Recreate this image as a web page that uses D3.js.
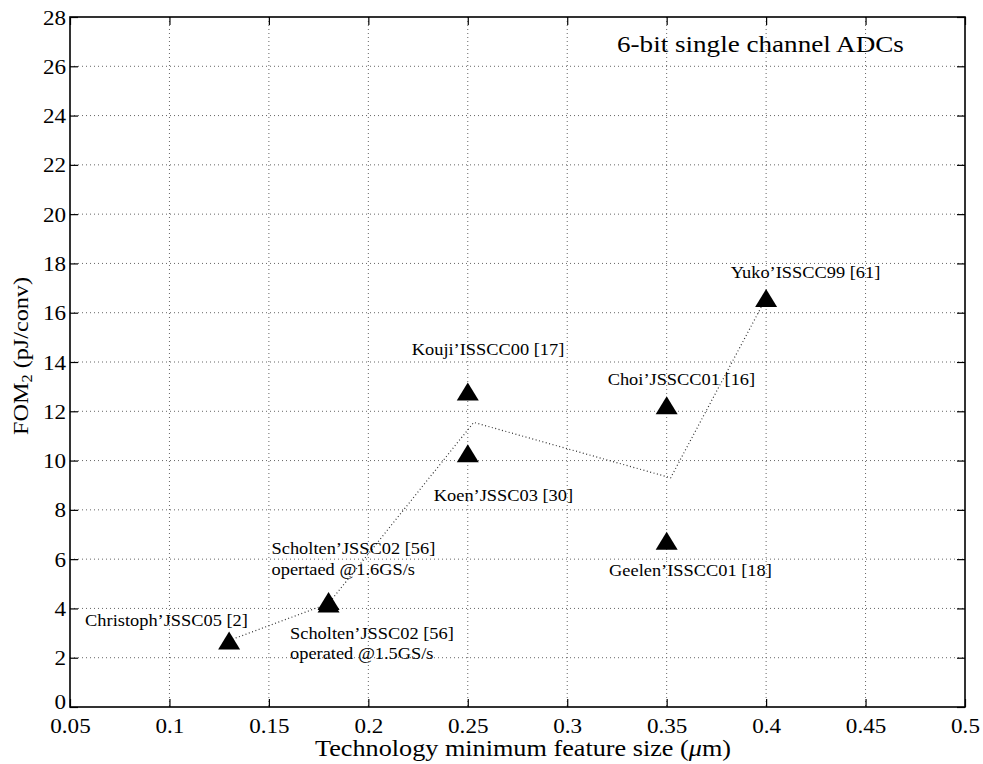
<!DOCTYPE html>
<html><head><meta charset="utf-8">
<script src="https://cdn.jsdelivr.net/npm/d3@7"></script>
<style>body{margin:0;background:#fff}svg{display:block}text{font-family:"Liberation Serif","Times New Roman",serif;fill:#000}</style>
</head><body>
<svg id="c" width="983" height="764"></svg>
<script>
// ---- data ----
const names = ["Christoph’JSSC05 [2]", "Scholten’JSSC02 [56]|opertaed @1.6GS/s", "Scholten’JSSC02 [56]|operated @1.5GS/s",
  "Kouji’ISSCC00 [17]", "Koen’JSSC03 [30]", "Choi’JSSCC01 [16]", "Geelen’ISSCC01 [18]", "Yuko’ISSCC99 [61]"];
const featureSize = [0.13, 0.18, 0.18, 0.25, 0.25, 0.35, 0.35, 0.40];
const fom2 = [2.7, 4.3, 4.2, 12.8, 10.3, 12.25, 6.75, 16.6];
const trendX = [0.13, 0.18, 0.253, 0.352, 0.40];
const trendY = [2.7, 4.2, 11.55, 9.3, 16.6];
const xTicks = [0.05, 0.1, 0.15, 0.2, 0.25, 0.3, 0.35, 0.4, 0.45, 0.5];
const xTickLabels = ["0.05", "0.1", "0.15", "0.2", "0.25", "0.3", "0.35", "0.4", "0.45", "0.5"];
const yTicks = [0, 2, 4, 6, 8, 10, 12, 14, 16, 18, 20, 22, 24, 26, 28];
const title = "6-bit single channel ADCs";

// label offsets (styling, pixels relative to marker)
const labelOffsets = [[-144, -14.5], [-57, -46.7], [-38.5, 35], [-56, -36.6], [-34, 47.5], [-59, -20], [-57.6, 35.3], [-35.3, -20]];

const L = 70, R = 965, T = 17, B = 707;
const svg = d3.select("#c");
const x = d3.scaleLinear().domain([0.05, 0.5]).range([L, R]);
const y = d3.scaleLinear().domain([0, 28]).range([B, T]);

// grid
const g = svg.append("g");
g.selectAll(".gx").data(xTicks.slice(1, -1)).join("line")
  .attr("x1", d => x(d)).attr("x2", d => x(d)).attr("y1", T).attr("y2", B)
  .attr("stroke", "#666").attr("stroke-width", 1).attr("stroke-dasharray", "1,3");
g.selectAll(".gy").data(yTicks.slice(1, -1)).join("line")
  .attr("y1", d => y(d)).attr("y2", d => y(d)).attr("x1", L).attr("x2", R)
  .attr("stroke", "#666").attr("stroke-width", 1).attr("stroke-dasharray", "1,3");

// axes
const tl = 8;
const ax = svg.append("g").attr("transform", `translate(0,${B})`)
  .call(d3.axisBottom(x).tickValues(xTicks).tickSize(-tl).tickFormat((d, i) => xTickLabels[i]));
const axT = svg.append("g").attr("transform", `translate(0,${T})`)
  .call(d3.axisTop(x).tickValues(xTicks).tickSize(-tl).tickFormat(""));
const ay = svg.append("g").attr("transform", `translate(${L},0)`)
  .call(d3.axisLeft(y).tickValues(yTicks).tickSize(-tl).tickFormat(d3.format("d")));
const ayR = svg.append("g").attr("transform", `translate(${R},0)`)
  .call(d3.axisRight(y).tickValues(yTicks).tickSize(-tl).tickFormat(""));
[ax, axT, ay, ayR].forEach(a => {
  a.select(".domain").remove();
  a.selectAll(".tick line").attr("stroke", "#000").attr("stroke-width", 1.2);
});
ax.selectAll(".tick text").attr("font-size", 22).attr("y", 0).attr("dy", 0)
  .attr("transform", "translate(0,26) scale(1.05,1)");
ay.selectAll(".tick text").attr("font-size", 22).attr("x", 0).attr("dy", 0)
  .attr("transform", d => `translate(-4,${d === 0 ? 1 : 7}) scale(1.05,1)`);
svg.append("rect").attr("x", L).attr("y", T).attr("width", R - L).attr("height", B - T)
  .attr("fill", "none").attr("stroke", "#000").attr("stroke-width", 1.6);

// trend line
svg.append("path").datum(d3.zip(trendX, trendY))
  .attr("d", d3.line().x(d => x(d[0])).y(d => y(d[1])))
  .attr("fill", "none").attr("stroke", "#333").attr("stroke-width", 1.2).attr("stroke-dasharray", "1,2.5");

// markers
const tri = (cx, cy) => `M${cx - 11},${cy + 9}L${cx + 11},${cy + 9}L${cx},${cy - 9}Z`;
svg.selectAll(".m").data(featureSize).join("path")
  .attr("d", (d, i) => tri(x(d), y(fom2[i]))).attr("fill", "#000");

// labels
names.forEach((n, i) => {
  const px = x(featureSize[i]) + labelOffsets[i][0], py = y(fom2[i]) + labelOffsets[i][1];
  n.split("|").forEach((line, k) => {
    svg.append("text").attr("transform", `translate(${px},${py + k * 20.7}) scale(1.05,1)`)
      .attr("font-size", 17.5).attr("fill", "#222").text(line);
  });
});

// title
svg.append("text").attr("transform", `translate(617,52) scale(1.13,1)`).attr("font-size", 24).text(title);

// axis labels
const xl = svg.append("text").attr("transform", `translate(523,756) scale(1.14,1)`).attr("text-anchor", "middle").attr("font-size", 23);
xl.append("tspan").text("Technology minimum feature size (");
xl.append("tspan").attr("font-style", "italic").text("μ");
xl.append("tspan").text("m)");
const yl = svg.append("text").attr("transform", `translate(28,356) rotate(-90) scale(1.1,1)`).attr("text-anchor", "middle").attr("font-size", 22);
yl.append("tspan").text("FOM");
yl.append("tspan").attr("font-size", 15).attr("dy", 4).text("2");
yl.append("tspan").attr("dy", -4).text(" (pJ/conv)");
</script>
</body></html>
